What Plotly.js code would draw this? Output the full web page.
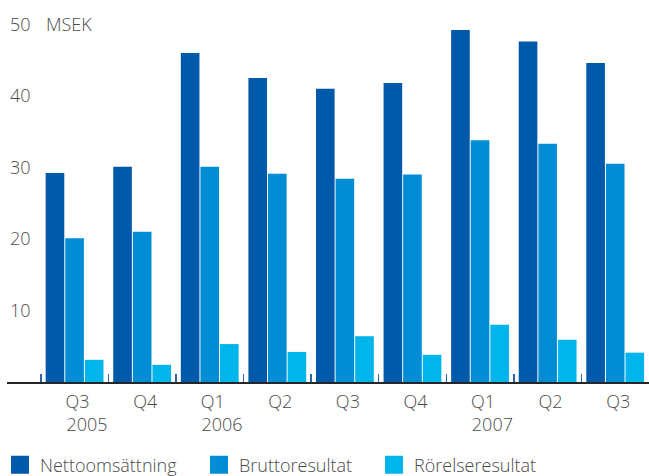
<!DOCTYPE html>
<html>
<head>
<meta charset="utf-8">
<script src="https://cdn.plot.ly/plotly-3.0.1.min.js"></script>
<style>html,body{margin:0;padding:0;background:#fff;}#chart{width:649px;height:476px;}</style>
</head>
<body>
<div id="chart"></div>
<script>
var periods = ["2005 Q3","2005 Q4","2006 Q1","2006 Q2","2006 Q3","2006 Q4","2007 Q1","2007 Q2","2007 Q3"];
var quarterLabels = ["Q3","Q4","Q1","Q2","Q3","Q4","Q1","Q2","Q3"];
var yearLabels = ["2005","","2006","","","","2007","",""];
var nettoomsattning = [29.2, 30.1, 46.0, 42.5, 41.0, 41.8, 49.2, 47.6, 44.6];
var bruttoresultat = [20.1, 21.0, 30.1, 29.1, 28.4, 29.0, 33.8, 33.3, 30.5];
var rorelseresultat = [3.1, 2.4, 5.3, 4.2, 6.4, 3.8, 8.0, 5.9, 4.1];
var seriesNames = ["Nettoomsättning","Bruttoresultat","Rörelseresultat"];
var yTicks = [10, 20, 30, 40, 50];
var unitLabel = "MSEK";

var colors = ["#0059A9", "#008DD6", "#00B4EC"];
var seriesData = [nettoomsattning, bruttoresultat, rorelseresultat];
var legendIds = ["legend", "legend2", "legend3"];
var FONT = "Open Sans, Noto Sans, sans-serif";
var TXT = "#4a4a4a";
var PAD = "\u00a0\u00a0\u00a0\u00a0";

// two-line labels: year line left-aligned under the quarter
var tickText = quarterLabels.map(function(q, i){
  return yearLabels[i] ? q + "<br>" + PAD + yearLabels[i] : q;
});

var traces = [];
seriesData.forEach(function(vals, i){
  traces.push({
    type: "bar", x: periods, y: vals, name: seriesNames[i],
    marker: {color: colors[i], line: {width: 0}},
    showlegend: false, hoverinfo: "y"
  });
});
seriesData.forEach(function(vals, i){
  traces.push({
    type: "scatter", mode: "markers", x: [null], y: [null], name: seriesNames[i],
    marker: {symbol: "square", size: 16, color: colors[i], line: {width: 2, color: colors[i]}},
    legend: legendIds[i], showlegend: true, hoverinfo: "skip"
  });
});

function legendAt(xpx){
  return {
    orientation: "h", xref: "container", yref: "container",
    x: xpx / 649, xanchor: "left", y: (476 - 465) / 476, yanchor: "middle",
    font: {family: FONT, size: 18, color: TXT, weight: 300},
    bgcolor: "rgba(0,0,0,0)", itemsizing: "trace", tracegroupgap: 0
  };
}

var layout = {
  width: 649, height: 476,
  margin: {l: 7, r: 0, t: 10, b: 94},
  paper_bgcolor: "#fff", plot_bgcolor: "#fff",
  barmode: "group", bargap: 0.13, bargroupgap: 0.05,
  font: {family: FONT, color: TXT, weight: 300},
  xaxis: {
    type: "category", categoryorder: "array", categoryarray: periods,
    tickmode: "array", tickvals: periods, ticktext: tickText, tickangle: 0,
    tickson: "boundaries", ticks: "inside", ticklen: 8, tickwidth: 1.5, tickcolor: "#2f63a8",
    ticklabelshift: 3, ticklabelstandoff: 2,
    showline: true, linecolor: "#262626", linewidth: 2,
    showgrid: false, zeroline: false, range: [-1, 8.5],
    tickfont: {family: FONT, size: 18, color: TXT, weight: 300}
  },
  yaxis: {
    range: [0, 52], tickmode: "array", tickvals: yTicks,
    ticklabelposition: "inside", ticks: "", showgrid: false, zeroline: false, showline: false,
    tickfont: {family: FONT, size: 18, color: TXT, weight: 300}
  },
  annotations: [{
    text: unitLabel, xref: "paper", yref: "y", x: (44 - 7) / 642, y: 50,
    xanchor: "left", yanchor: "middle", showarrow: false,
    font: {family: FONT, size: 18, color: TXT, weight: 300}
  }],
  legend: legendAt(-7),
  legend2: legendAt(199),
  legend3: legendAt(374)
};

Plotly.newPlot("chart", traces, layout, {displayModeBar: false, staticPlot: true});
</script>
</body>
</html>
